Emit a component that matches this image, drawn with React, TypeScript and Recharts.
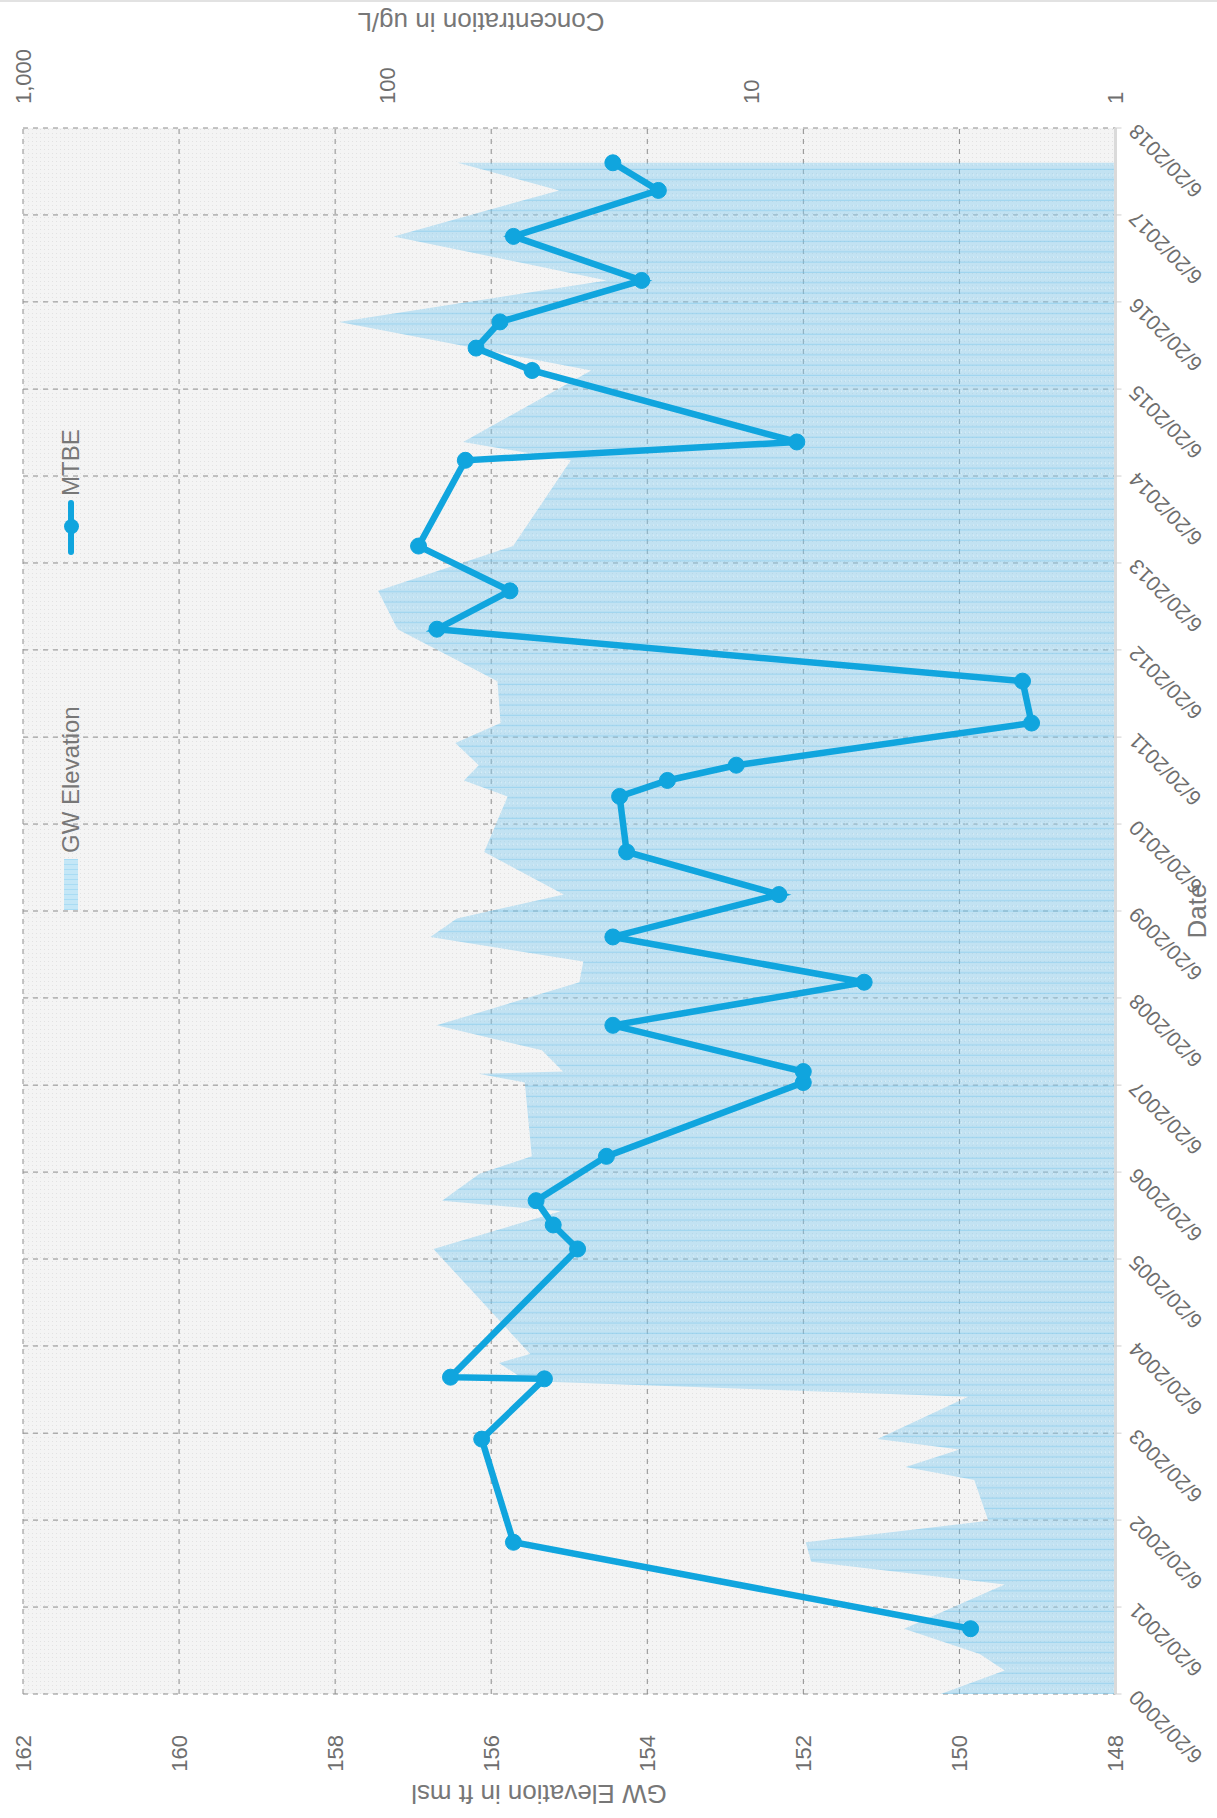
import React from "react";
import {
  ComposedChart,
  Area,
  Line,
  XAxis,
  YAxis,
  CartesianGrid,
  Legend,
} from "recharts";

// groundwater elevation readings (ft msl)
const gwDates = [
  "2000-06-20", "2000-09-27", "2000-12-05", "2001-03-21", "2001-09-23",
  "2001-12-27", "2002-03-19", "2002-06-17", "2002-12-05", "2003-01-29",
  "2003-04-12", "2003-05-26", "2003-11-20", "2004-01-25", "2004-04-10",
  "2004-05-17", "2005-08-01", "2006-01-07", "2006-02-20", "2006-06-13",
  "2006-08-25", "2007-07-01", "2007-08-07", "2007-08-16", "2007-11-13",
  "2008-02-26", "2008-08-25", "2008-11-20", "2009-03-03", "2009-05-20",
  "2009-08-28", "2010-02-23", "2010-10-14", "2010-12-20", "2011-02-22",
  "2011-05-26", "2011-08-18", "2012-02-10", "2012-09-15", "2013-02-23",
  "2013-08-30", "2014-08-25", "2014-11-10", "2015-09-06", "2016-03-28",
  "2016-09-18", "2017-03-22", "2017-10-01", "2018-01-25",
];
const gwLevels = [
  150.24, 149.42, 149.74, 150.71, 149.42,
  151.9, 151.97, 149.63, 149.81, 150.69,
  150.0, 151.05, 149.89, 155.55, 155.9,
  155.5, 156.74, 155.11, 156.63, 156.15,
  155.48, 155.57, 156.16, 155.08, 155.35,
  156.7, 154.87, 154.82, 156.78, 156.44,
  155.07, 156.09, 155.79, 156.35, 156.16,
  156.46, 155.88, 155.92, 157.2, 157.45,
  155.72, 154.98, 156.36, 154.72, 157.95,
  154.52, 157.25, 155.13, 156.43,
];

// MTBE results (ug/L)
const mtbeDates = [
  "2001-03-21", "2002-03-19", "2003-05-26", "2004-02-03", "2004-02-10",
  "2005-08-01", "2005-11-10", "2006-02-20", "2006-08-25", "2007-07-01",
  "2007-08-16", "2008-02-26", "2008-08-25", "2009-03-03", "2009-08-28",
  "2010-02-23", "2010-10-14", "2010-12-20", "2011-02-22", "2011-08-18",
  "2012-02-10", "2012-09-15", "2013-02-23", "2013-08-30", "2014-08-25",
  "2014-11-10", "2015-09-06", "2015-12-09", "2016-03-28", "2016-09-18",
  "2017-03-22", "2017-10-01", "2018-01-25",
];
const mtbeConc = [
  2.5, 45, 55, 37, 67,
  30, 35, 39, 25, 7.2,
  7.2, 24, 4.9, 24, 8.4,
  22, 23, 17, 11, 1.7,
  1.8, 73, 46, 82, 61,
  7.5, 40, 57, 49, 20,
  45, 18, 24,
];

const dateTicks = [
  "2000-06-20", "2001-06-20", "2002-06-20", "2003-06-20", "2004-06-20",
  "2005-06-20", "2006-06-20", "2007-06-20", "2008-06-20", "2009-06-20",
  "2010-06-20", "2011-06-20", "2012-06-20", "2013-06-20", "2014-06-20",
  "2015-06-20", "2016-06-20", "2017-06-20", "2018-06-20",
];
const gwTicks = [148, 150, 152, 154, 156, 158, 160, 162];
const concTicks = [1, 10, 100, 1000];

const FONT = '"Liberation Sans", Arial, sans-serif';
const BLUE = "#10a5de";
const GREY = "#6e6e6e";

const toTime = (s: string) => {
  const [y, m, d] = s.split("-").map(Number);
  return Date.UTC(y, m - 1, d);
};

const gwData = gwDates.map((d, i) => ({ date: toTime(d), gw: gwLevels[i] }));
const mtbeData = mtbeDates.map((d, i) => ({ date: toTime(d), mtbe: mtbeConc[i] }));
const xTicks = dateTicks.map(toTime);

const fmtDate = (v: number) => {
  const d = new Date(v);
  return `${d.getUTCMonth() + 1}/${d.getUTCDate()}/${d.getUTCFullYear()}`;
};
const fmtConc = (v: number) => v.toLocaleString("en-US");

const DateTick = (props: any) => {
  const { x, y, payload } = props;
  return (
    <text
      x={x}
      y={y}
      dy="0.35em"
      transform={`rotate(-45 ${x} ${y})`}
      textAnchor="end"
      fontSize={21}
      fill={GREY}
    >
      {fmtDate(payload.value)}
    </text>
  );
};

const axisTitle = (x: number, y: number, angle: number, text: string) => () => (
  <text
    x={x}
    y={y}
    transform={angle ? `rotate(${angle} ${x} ${y})` : undefined}
    textAnchor="middle"
    dominantBaseline="central"
    fontSize={26}
    fill="#777"
  >
    {text}
  </text>
);

const LegendBox = () => (
  <div
    style={{
      position: "relative",
      width: 520,
      height: 42,
      fontFamily: FONT,
      fontSize: 24,
      color: "#777",
    }}
  >
    <div
      style={{
        position: "absolute",
        left: 8,
        top: 14,
        width: 51,
        height: 14,
        background:
          "repeating-linear-gradient(90deg, #a9dcf4 0px, #a9dcf4 1px, #c4e7f7 1px, #c4e7f7 5px)",
      }}
    />
    <span style={{ position: "absolute", left: 65, top: 0, lineHeight: "42px" }}>
      GW Elevation
    </span>
    <div
      style={{
        position: "absolute",
        left: 363,
        top: 18,
        width: 55,
        height: 6,
        borderRadius: 3,
        background: BLUE,
      }}
    />
    <div
      style={{
        position: "absolute",
        left: 383.5,
        top: 13.5,
        width: 15,
        height: 15,
        borderRadius: "50%",
        background: BLUE,
      }}
    />
    <span style={{ position: "absolute", left: 422, top: 0, lineHeight: "42px" }}>
      MTBE
    </span>
  </div>
);

export default function App() {
  return (
    <div
      style={{
        position: "absolute",
        left: 0,
        top: 0,
        width: 1217,
        height: 1818,
        overflow: "hidden",
        background: "#fff",
        fontFamily: FONT,
      }}
    >
      <div
        style={{
          position: "absolute",
          left: 0,
          top: 0,
          width: 1818,
          height: 1217,
          transformOrigin: "0 0",
          transform: "translate(0px, 1818px) rotate(-90deg)",
        }}
      >
        <ComposedChart
          width={1818}
          height={1217}
          margin={{ top: 23, right: 0, bottom: 0, left: 0 }}
        >
          <defs>
            <pattern id="plotBg" width="4" height="4" patternUnits="userSpaceOnUse">
              <rect width="4" height="4" fill="#f4f4f4" />
              <rect width="1" height="1" fill="#e2e2e2" />
            </pattern>
            <pattern id="gwFill" width="10.3" height="4" patternUnits="userSpaceOnUse">
              <rect width="10.3" height="4" fill="#86cdf0" fillOpacity={0.45} />
              <rect width="1.2" height="4" fill="#5fbde9" fillOpacity={0.35} />
              <rect x="5" y="1" width="1" height="1" fill="#ffffff" fillOpacity={0.5} />
            </pattern>
          </defs>
          <CartesianGrid
            yAxisId="gw"
            fill="url(#plotBg)"
            fillOpacity={1}
            stroke="#8c8c8c"
            strokeDasharray="5 5"
          />
          <XAxis
            dataKey="date"
            type="number"
            domain={[xTicks[0], xTicks[xTicks.length - 1]]}
            ticks={xTicks}
            interval={0}
            height={101.5}
            tickSize={6}
            tickMargin={11}
            tick={<DateTick />}
            tickLine={{ stroke: "#cfcfcf" }}
            axisLine={{ stroke: "#dadada", strokeWidth: 3 }}
            label={axisTitle(907, 1197, 0, "Date")}
          />
          <YAxis
            yAxisId="gw"
            orientation="left"
            type="number"
            domain={[148, 162]}
            ticks={gwTicks}
            interval={0}
            width={124}
            tickSize={6}
            tickMargin={35}
            tickLine={false}
            axisLine={false}
            tick={{ fontSize: 22, fill: GREY }}
            label={axisTitle(24, 539, -90, "GW Elevation in ft msl")}
          />
          <YAxis
            yAxisId="conc"
            orientation="right"
            type="number"
            scale="log"
            domain={[1, 1000]}
            ticks={concTicks}
            interval={0}
            width={128}
            tickSize={6}
            tickMargin={18}
            tickLine={false}
            axisLine={false}
            tickFormatter={fmtConc}
            tick={{ fontSize: 22, fill: GREY }}
            label={axisTitle(1796, 481, -90, "Concentration in ug/L")}
          />
          <Area
            yAxisId="gw"
            data={gwData}
            dataKey="gw"
            name="GW Elevation"
            type="linear"
            stroke="none"
            fill="url(#gwFill)"
            fillOpacity={1}
            dot={false}
            activeDot={false}
            isAnimationActive={false}
          />
          <Line
            yAxisId="conc"
            data={mtbeData}
            dataKey="mtbe"
            name="MTBE"
            type="linear"
            stroke={BLUE}
            strokeWidth={6.5}
            dot={{ r: 8, fill: BLUE, stroke: BLUE, strokeWidth: 1 }}
            activeDot={false}
            isAnimationActive={false}
          />
          <Legend
            layout="horizontal"
            verticalAlign="middle"
            align="center"
            wrapperStyle={{ left: 900, top: 50, width: 520, height: 42 }}
            content={() => <LegendBox />}
          />
        </ComposedChart>
        <div
          style={{
            position: "absolute",
            left: 1816,
            top: 0,
            width: 2,
            height: 1217,
            background: "#e2e2e2",
          }}
        />
      </div>
    </div>
  );
}
